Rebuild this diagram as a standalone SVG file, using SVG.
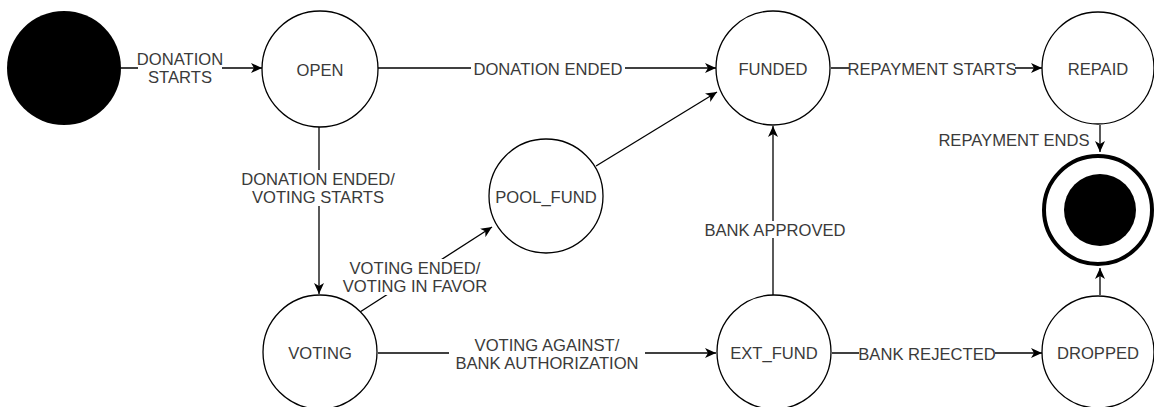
<svg xmlns="http://www.w3.org/2000/svg" width="1154" height="407" viewBox="0 0 1154 407">
<style>
.st{fill:#fff;stroke:#000;stroke-width:1.3}
.t{font-family:"Liberation Sans",Arial,sans-serif;font-size:16.6px;fill:#3a3a3a;text-anchor:middle;dominant-baseline:central}
.e{fill:none;stroke:#000;stroke-width:1.3}
.bg{fill:#fff}
</style>
<defs>
<marker id="ah" viewBox="0 0 12 10" refX="11" refY="5" markerWidth="12" markerHeight="10" markerUnits="userSpaceOnUse" orient="auto">
<path d="M0,0 L11,5 L0,10 L3,5 z" fill="#000"/>
</marker>
</defs>
<rect width="1154" height="407" fill="#fff"/>
<g id="connectors">
<line class="e" x1="121" y1="68" x2="262" y2="68" marker-end="url(#ah)"/>
<line class="e" x1="378" y1="68" x2="716" y2="68" marker-end="url(#ah)"/>
<line class="e" x1="831" y1="68" x2="1042" y2="68" marker-end="url(#ah)"/>
<line class="e" x1="1100" y1="125" x2="1100" y2="152" marker-end="url(#ah)"/>
<line class="e" x1="319" y1="127" x2="319" y2="294" marker-end="url(#ah)"/>
<line class="e" x1="360" y1="312" x2="492" y2="227" marker-end="url(#ah)"/>
<line class="e" x1="596" y1="166" x2="717" y2="92" marker-end="url(#ah)"/>
<line class="e" x1="378" y1="353" x2="716" y2="353" marker-end="url(#ah)"/>
<line class="e" x1="773" y1="295" x2="773" y2="126" marker-end="url(#ah)"/>
<line class="e" x1="832" y1="353" x2="1042" y2="353" marker-end="url(#ah)"/>
<line class="e" x1="1100" y1="295" x2="1100" y2="268" marker-end="url(#ah)"/>
<rect class="bg" x="138" y="51" width="84" height="34"/>
<text class="t" x="180" y="59">DONATION</text>
<text class="t" x="180" y="77">STARTS</text>
<rect class="bg" x="471" y="60" width="154" height="17"/>
<text class="t" x="548" y="69">DONATION ENDED</text>
<rect class="bg" x="849" y="60" width="166" height="17"/>
<text class="t" x="932" y="69">REPAYMENT STARTS</text>
<text class="t" x="1014" y="140">REPAYMENT ENDS</text>
<rect class="bg" x="241" y="170" width="156" height="36"/>
<text class="t" x="318" y="179">DONATION ENDED/</text>
<text class="t" x="318" y="197">VOTING STARTS</text>
<rect class="bg" x="344" y="259" width="142" height="36"/>
<text class="t" x="415" y="268">VOTING ENDED/</text>
<text class="t" x="415" y="286">VOTING IN FAVOR</text>
<rect class="bg" x="449" y="336" width="196" height="36"/>
<text class="t" x="547" y="345">VOTING AGAINST/</text>
<text class="t" x="547" y="363">BANK AUTHORIZATION</text>
<rect class="bg" x="705" y="221" width="140" height="17"/>
<text class="t" x="775" y="230">BANK APPROVED</text>
<rect class="bg" x="859" y="345" width="136" height="17"/>
<text class="t" x="927" y="354">BANK REJECTED</text>
</g>
<g id="start"><circle cx="64" cy="68" r="57" fill="#000"/></g>
<g id="open"><circle class="st" cx="320" cy="69" r="58"/><text class="t" x="320" y="70">OPEN</text></g>
<g id="funded"><circle class="st" cx="773" cy="68" r="57"/><text class="t" x="773" y="69">FUNDED</text></g>
<g id="repaid"><circle class="st" cx="1098" cy="68" r="56"/><text class="t" x="1098" y="69">REPAID</text></g>
<g id="pool_fund"><circle class="st" cx="546" cy="196" r="57"/><text class="t" x="546" y="197">POOL_FUND</text></g>
<g id="final"><circle cx="1098" cy="210" r="54" fill="#fff" stroke="#000" stroke-width="4"/><circle cx="1100" cy="210" r="36" fill="#000"/></g>
<g id="voting"><circle class="st" cx="320" cy="352" r="57"/><text class="t" x="320" y="353">VOTING</text></g>
<g id="ext_fund"><circle class="st" cx="774" cy="352" r="57"/><text class="t" x="774" y="353">EXT_FUND</text></g>
<g id="dropped"><circle class="st" cx="1098" cy="352" r="56"/><text class="t" x="1098" y="353">DROPPED</text></g>
</svg>
